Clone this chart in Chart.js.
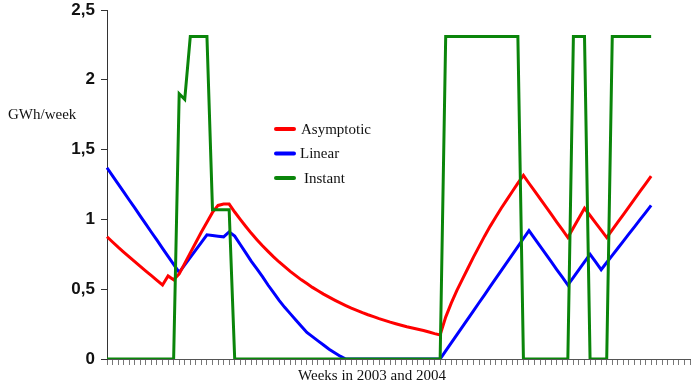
<!DOCTYPE html>
<html>
<head>
<meta charset="utf-8">
<script src="https://cdn.jsdelivr.net/npm/chart.js@4/dist/chart.umd.min.js"></script>
<style>
  html, body { margin: 0; padding: 0; background: #fff; }
  #wrap { width: 692px; height: 390px; position: relative; }
</style>
</head>
<body>
<div id="wrap"><canvas id="mainChart"></canvas></div>
<script>
'use strict';

// Week slots on the category axis (ticks only, no labels shown)
const weeks = Array.from({ length: 106 }, (_, i) => String(i + 1));

const asymptotic = [
    0.876, 0.838, 0.801, 0.766, 0.731, 0.697, 0.663, 0.630, 0.597, 0.563,
    0.530, 0.595, 0.567, 0.610, 0.685, 0.760, 0.835, 0.910, 0.980, 1.050,
    1.100, 1.110, 1.110, 1.053, 1.000, 0.949, 0.900, 0.855, 0.811, 0.771,
    0.732, 0.695, 0.661, 0.628, 0.597, 0.567, 0.540, 0.513, 0.489, 0.465,
    0.443, 0.422, 0.402, 0.383, 0.365, 0.349, 0.332, 0.317, 0.303, 0.289,
    0.277, 0.264, 0.253, 0.242, 0.231, 0.222, 0.213, 0.204, 0.193, 0.182,
    0.172, 0.300, 0.400, 0.490, 0.570, 0.650, 0.730, 0.805, 0.880, 0.950,
    1.015, 1.080, 1.140, 1.200, 1.260, 1.315, 1.259, 1.204, 1.148, 1.093,
    1.037, 0.981, 0.926, 0.870, 0.940, 1.010, 1.080, 1.028, 0.975, 0.923,
    0.870, 0.925, 0.980, 1.035, 1.090, 1.145, 1.200, 1.255, 1.310
];

const linear = [
    1.370, 1.312, 1.255, 1.197, 1.139, 1.082, 1.024, 0.966, 0.908, 0.851,
    0.793, 0.735, 0.678, 0.620, 0.674, 0.728, 0.782, 0.836, 0.890, 0.885,
    0.880, 0.875, 0.910, 0.880, 0.820, 0.760, 0.700, 0.645, 0.590, 0.530,
    0.475, 0.420, 0.370, 0.325, 0.280, 0.235, 0.190, 0.160, 0.130, 0.100,
    0.070, 0.045, 0.020, 0, 0, 0, 0, 0, 0, 0,
    0, 0, 0, 0, 0, 0, 0, 0, 0, 0,
    0, 0.058, 0.115, 0.173, 0.230, 0.288, 0.345, 0.403, 0.460, 0.518,
    0.575, 0.633, 0.690, 0.748, 0.805, 0.863, 0.920, 0.864, 0.809, 0.753,
    0.697, 0.641, 0.586, 0.530, 0.585, 0.640, 0.695, 0.750, 0.695, 0.640,
    0.691, 0.742, 0.793, 0.844, 0.896, 0.947, 0.998, 1.049, 1.100
];

const instant = [
    0, 0, 0, 0, 0, 0, 0, 0, 0, 0,
    0, 0, 0, 1.90, 1.86, 2.31, 2.31, 2.31, 2.31, 1.07,
    1.07, 1.07, 1.07, 0, 0, 0, 0, 0, 0, 0,
    0, 0, 0, 0, 0, 0, 0, 0, 0, 0,
    0, 0, 0, 0, 0, 0, 0, 0, 0, 0,
    0, 0, 0, 0, 0, 0, 0, 0, 0, 0,
    0, 2.31, 2.31, 2.31, 2.31, 2.31, 2.31, 2.31, 2.31, 2.31,
    2.31, 2.31, 2.31, 2.31, 2.31, 0, 0, 0, 0, 0,
    0, 0, 0, 0, 2.31, 2.31, 2.31, 0, 0, 0,
    0, 2.31, 2.31, 2.31, 2.31, 2.31, 2.31, 2.31, 2.31
];

const SERIES = [
    { label: 'Asymptotic', data: asymptotic, color: '#ff0000', order: 1, legendX: 301 },
    { label: 'Linear',     data: linear,     color: '#0000ff', order: 2, legendX: 300 },
    { label: 'Instant',    data: instant,    color: '#0a850a', order: 0, legendX: 304 },
];

const SERIF = '"Liberation Serif", "Times New Roman", serif';

// Axis titles and the in-plot legend are drawn by hand to match the original placement
const annotations = {
    id: 'annotations',
    afterDraw(chart) {
        const ctx = chart.ctx;
        ctx.save();
        ctx.fillStyle = '#111';
        ctx.font = '15px ' + SERIF;
        ctx.textBaseline = 'middle';
        ctx.textAlign = 'left';
        ctx.fillText('GWh/week', 8, 115);

        ctx.textAlign = 'center';
        ctx.fillText('Weeks in 2003 and 2004', 372, 376);

        ctx.textAlign = 'left';
        SERIES.forEach((s, i) => {
            const y = 129 + i * 24.5;
            ctx.strokeStyle = s.color;
            ctx.lineWidth = 4;
            ctx.lineCap = 'round';
            ctx.beginPath();
            ctx.moveTo(276, y);
            ctx.lineTo(294, y);
            ctx.stroke();
            ctx.fillText(s.label, s.legendX, y + 1);
        });
        ctx.restore();
    }
};

const canvas = document.getElementById('mainChart');
new Chart(canvas.getContext('2d'), {
    type: 'line',
    data: {
        labels: weeks,
        datasets: SERIES.map(s => ({
            label: s.label,
            data: s.data,
            borderColor: s.color,
            backgroundColor: s.color,
            borderWidth: 3,
            pointRadius: 0,
            tension: 0,
            fill: false,
            order: s.order,
        })),
    },
    options: {
        responsive: true,
        maintainAspectRatio: false,
        animation: false,
        layout: { padding: { top: 10, right: 2, left: 0, bottom: 0 } },
        plugins: {
            legend: { display: false },
            tooltip: { enabled: false },
        },
        scales: {
            x: {
                offset: false,
                grid: { drawOnChartArea: false, drawTicks: true, tickLength: 6, color: '#777' },
                border: { display: true, color: '#555', width: 1 },
                ticks: { autoSkip: false, maxRotation: 0, callback: () => '', padding: 0 },
                afterFit: scale => { scale.height = 31; },
            },
            y: {
                min: 0,
                max: 2.5,
                grid: { drawOnChartArea: false, drawTicks: true, tickLength: 6, color: '#333' },
                border: { display: true, color: '#333', width: 1 },
                ticks: {
                    stepSize: 0.5,
                    padding: 6,
                    color: '#111',
                    font: { family: '"Liberation Sans", Arial, sans-serif', size: 17, weight: 'bold' },
                    callback: v => String(v).replace('.', ','),
                },
                afterFit: scale => {
                    scale.width = 107;
                    scale.paddingTop = 0;
                    scale.paddingBottom = 0;
                },
            },
        },
    },
    plugins: [annotations],
});
</script>
</body>
</html>
